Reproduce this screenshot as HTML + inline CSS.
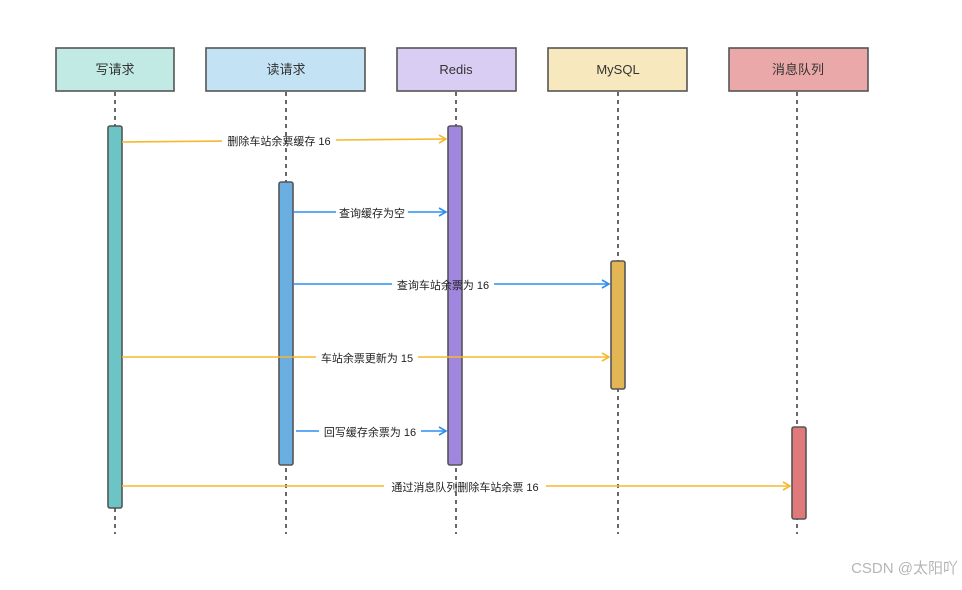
<!DOCTYPE html>
<html><head><meta charset="utf-8"><style>
body{margin:0;background:#fff;}
svg text{font-family:"Liberation Sans","Noto Sans CJK SC",sans-serif;}
</style></head><body>
<svg width="962" height="585" viewBox="0 0 962 585" xmlns="http://www.w3.org/2000/svg">
<defs>
<marker id="ay" markerWidth="10" markerHeight="10" refX="8" refY="5" orient="auto" markerUnits="userSpaceOnUse"><path d="M1,1 L8,5 L1,9" fill="none" stroke="#f5b82e" stroke-width="1.6"/></marker>
<marker id="ab" markerWidth="10" markerHeight="10" refX="8" refY="5" orient="auto" markerUnits="userSpaceOnUse"><path d="M1,1 L8,5 L1,9" fill="none" stroke="#2f8ff0" stroke-width="1.6"/></marker>
</defs>
<g stroke="#444" stroke-width="1.6" stroke-dasharray="4,4">
<line x1="115" y1="92" x2="115" y2="534"/>
<line x1="286" y1="92" x2="286" y2="534"/>
<line x1="456" y1="92" x2="456" y2="534"/>
<line x1="618" y1="92" x2="618" y2="534"/>
<line x1="797" y1="92" x2="797" y2="534"/>
</g>
<g stroke="#555" stroke-width="1.6">
<rect x="56" y="48" width="118" height="43" fill="#c0eae3"/>
<rect x="206" y="48" width="159" height="43" fill="#c3e2f4"/>
<rect x="397" y="48" width="119" height="43" fill="#d9cdf3"/>
<rect x="548" y="48" width="139" height="43" fill="#f7e8bd"/>
<rect x="729" y="48" width="139" height="43" fill="#eba8a8"/>
</g>
<g font-size="13" fill="#333" text-anchor="middle">
<text x="115" y="74">写请求</text>
<text x="286" y="74">读请求</text>
<text x="456" y="74">Redis</text>
<text x="618" y="74">MySQL</text>
<text x="798" y="74">消息队列</text>
</g>
<g stroke="#555" stroke-width="1.6">
<rect x="108" y="126" width="14" height="382" rx="2" fill="#6cc4c4"/>
<rect x="279" y="182" width="14" height="283" rx="2" fill="#6aaee2"/>
<rect x="448" y="126" width="14" height="339" rx="2" fill="#a086de"/>
<rect x="611" y="261" width="14" height="128" rx="2" fill="#e2b655"/>
<rect x="792" y="427" width="14" height="92" rx="2" fill="#e07a7a"/>
</g>
<g stroke-width="1.6" fill="none">
<line x1="122" y1="142" x2="222" y2="141.1" stroke="#f5b82e"/>
<line x1="336" y1="140" x2="446" y2="139" stroke="#f5b82e" marker-end="url(#ay)"/>
<line x1="293" y1="212" x2="336" y2="212" stroke="#2f8ff0"/>
<line x1="408" y1="212" x2="446" y2="212" stroke="#2f8ff0" marker-end="url(#ab)"/>
<line x1="293" y1="284" x2="392" y2="284" stroke="#2f8ff0"/>
<line x1="494" y1="284" x2="609" y2="284" stroke="#2f8ff0" marker-end="url(#ab)"/>
<line x1="122" y1="357" x2="316" y2="357" stroke="#f5b82e"/>
<line x1="418" y1="357" x2="609" y2="357" stroke="#f5b82e" marker-end="url(#ay)"/>
<line x1="296" y1="431" x2="319" y2="431" stroke="#2f8ff0"/>
<line x1="421" y1="431" x2="446" y2="431" stroke="#2f8ff0" marker-end="url(#ab)"/>
<line x1="122" y1="486" x2="384" y2="486" stroke="#f5b82e"/>
<line x1="546" y1="486" x2="790" y2="486" stroke="#f5b82e" marker-end="url(#ay)"/>
</g>
<g font-size="11" fill="#222" text-anchor="middle">
<text x="279" y="145">删除车站余票缓存 16</text>
<text x="372" y="217">查询缓存为空</text>
<text x="443" y="289">查询车站余票为 16</text>
<text x="367" y="362">车站余票更新为 15</text>
<text x="370" y="436">回写缓存余票为 16</text>
<text x="465" y="491">通过消息队列删除车站余票 16</text>
</g>
<text x="958" y="573" font-size="15" fill="#b5b5b5" text-anchor="end">CSDN @太阳吖</text>
</svg>
</body></html>
